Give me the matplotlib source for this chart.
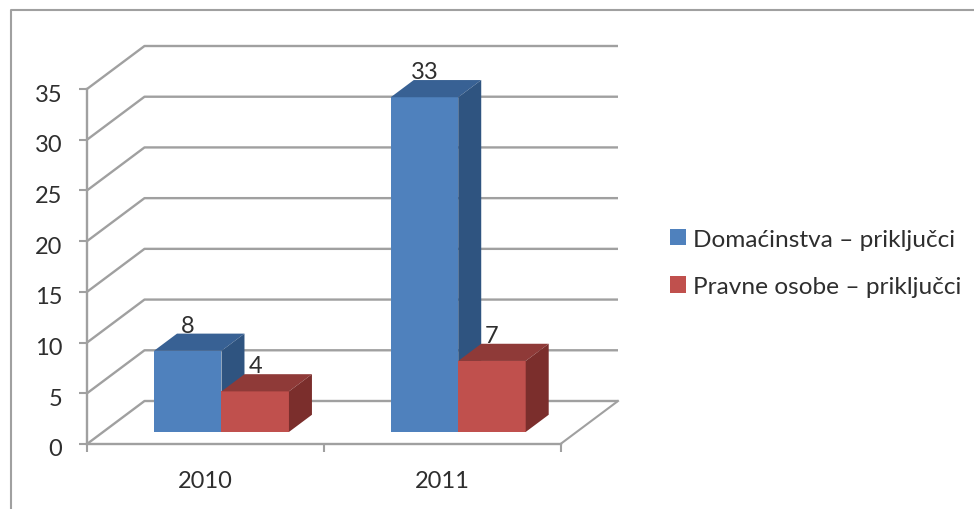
#!/usr/bin/python3

#Connections per year, drawn as a fake 3D column chart
#---

#import libraries
import matplotlib
matplotlib.use('Agg')
import matplotlib.pyplot as plt
from matplotlib.lines import Line2D
from matplotlib.patches import Patch, Polygon
from matplotlib.transforms import ScaledTranslation

#define the chart data
years = ['2010', '2011']
households = [8, 33]
companies = [4, 7]
series_names = ['Domaćinstva – priključci', 'Pravne osobe – priključci']
value_ticks = [0, 5, 10, 15, 20, 25, 30, 35]

#define the colours as front, top, side
BLUES = ['#4F81BD', '#386194', '#2F5480']
REDS = ['#C0504D', '#8F3A38', '#7B2E2C']
GRID = '#A0A0A0'
TEXT = '#2E2E2E'

#define the depth of the floor, in data units of the front plane
WIDTH_PX, HEIGHT_PX = 974, 510
LEFT, RIGHT, BOTTOM, TOP = 87, 560.5, 445, 90
DEPTH_X = 57.5 / ((RIGHT - LEFT) / 2)
DEPTH_Y = 43 / ((BOTTOM - TOP) / 35)

#define the bar layout, in category and depth units
GAP = 0.215
BAR_WIDTH = 0.285
BAR_Z0 = 0.28
BAR_Z1 = 0.68


#Functions
#---
def project(x, value, z):
    """
    Shift a point on the front plane back by its depth.
    """
    return x + z * DEPTH_X, value + z * DEPTH_Y

def draw_bar(ax, x, value, colours):
    """
    Draw the three visible faces of one bar, and its value label.
    """
    x1 = x + BAR_WIDTH
    front = [project(x, 0, BAR_Z0), project(x1, 0, BAR_Z0), project(x1, value, BAR_Z0), project(x, value, BAR_Z0)]
    top = [project(x, value, BAR_Z0), project(x1, value, BAR_Z0), project(x1, value, BAR_Z1), project(x, value, BAR_Z1)]
    side = [project(x1, 0, BAR_Z0), project(x1, 0, BAR_Z1), project(x1, value, BAR_Z1), project(x1, value, BAR_Z0)]
    
    for face, colour in zip([front, top, side], colours):
        ax.add_patch(Polygon(face, closed = True, facecolor = colour, edgecolor = 'none', clip_on = False))
    
    #the label sits over the middle of the front face
    label_x = project(x + BAR_WIDTH / 2, 0, BAR_Z0)[0]
    label_y = project(x, value, BAR_Z1)[1]
    ax.annotate(str(value), (label_x, label_y), xytext = (0, 1.5), textcoords = 'offset points',
                ha = 'center', va = 'baseline', color = TEXT, fontsize = 17, annotation_clip = False)


#Figure
#---
plt.rcParams['font.family'] = ['Lato', 'DejaVu Sans']

fig = plt.figure(figsize = (WIDTH_PX / 100, HEIGHT_PX / 100), dpi = 100)
ax = fig.add_axes([LEFT / WIDTH_PX, 1 - BOTTOM / HEIGHT_PX, (RIGHT - LEFT) / WIDTH_PX, (BOTTOM - TOP) / HEIGHT_PX])
ax.set_xlim(0, len(years))
ax.set_ylim(0, value_ticks[-1])
ax.patch.set_visible(False)

#draw the walls and the floor
for value in value_ticks:
    bx, by = project(0, value, 1)
    ex, ey = project(len(years), value, 1)
    ax.plot([0, bx, ex], [value, by, ey], color = GRID, lw = 1.7, clip_on = False, zorder = 1, solid_capstyle = 'butt')
ax.plot([len(years), project(len(years), 0, 1)[0]], [0, project(len(years), 0, 1)[1]], color = GRID, lw = 1.5, clip_on = False, zorder = 1)

#draw the bars
for i in range(len(years)):
    draw_bar(ax, i + GAP, households[i], BLUES)
    draw_bar(ax, i + GAP + BAR_WIDTH, companies[i], REDS)

#set up the axes
for name in ['top', 'right']:
    ax.spines[name].set_visible(False)
for name in ['left', 'bottom']:
    ax.spines[name].set_color(GRID)
    ax.spines[name].set_linewidth(1.7)
ax.set_yticks(value_ticks)
ax.tick_params(axis = 'y', length = 5.8, width = 1.5, color = GRID, labelcolor = TEXT, labelsize = 17, pad = 12)
ax.set_xticks(range(len(years) + 1))
ax.set_xticklabels([])
ax.tick_params(axis = 'x', which = 'major', length = 6, width = 1.5, color = GRID)
ax.set_xticks([i + 0.5 for i in range(len(years))], labels = years, minor = True)
ax.tick_params(axis = 'x', which = 'minor', length = 0, labelcolor = TEXT, labelsize = 17, pad = 19)

#the value labels sit a little below their ticks
shift_down = ScaledTranslation(0, -3 / 100, fig.dpi_scale_trans)
for label in ax.get_yticklabels():
    label.set_transform(label.get_transform() + shift_down)

#draw the legend
handles = [Patch(facecolor = BLUES[0]), Patch(facecolor = REDS[0])]
fig.legend(handles, series_names, loc = 'center left', bbox_to_anchor = (670 / WIDTH_PX, 1 - 264 / HEIGHT_PX),
           frameon = False, fontsize = 17.6, labelcolor = TEXT, handlelength = 0.65, handleheight = 0.65,
           handletextpad = 0.28, labelspacing = 1.07, borderaxespad = 0, borderpad = 0)

#draw the frame of the pasted picture
fig.add_artist(Line2D([10.5 / WIDTH_PX, 10.5 / WIDTH_PX, 1], [0, 1 - 10.5 / HEIGHT_PX, 1 - 10.5 / HEIGHT_PX], color = '#A0A0A0', lw = 1.5))

fig.savefig('out.png', dpi = 100)
